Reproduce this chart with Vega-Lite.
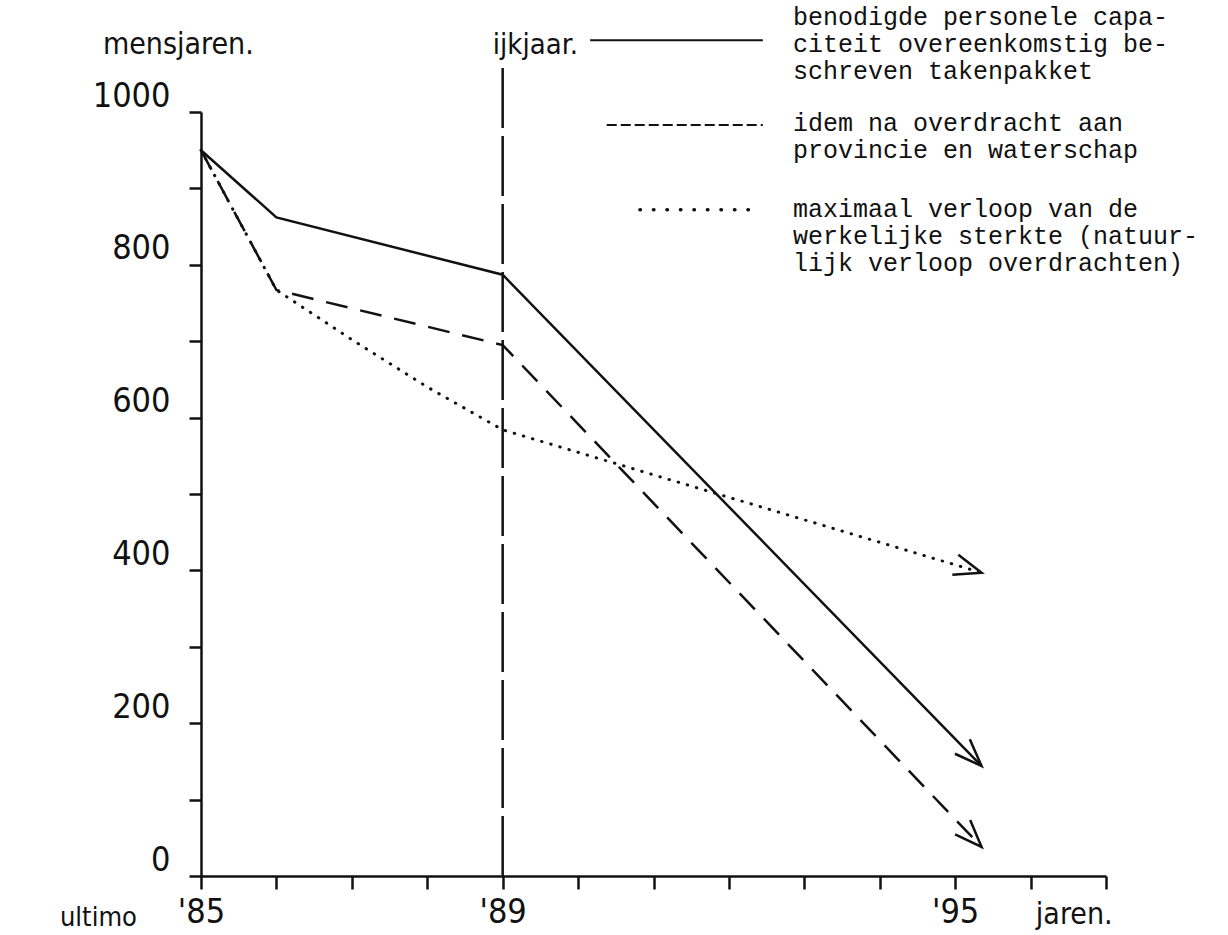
{
  "$schema": "https://vega.github.io/schema/vega-lite/v6.json",
  "width": 905,
  "height": 764,
  "autosize": {"type": "none"},
  "padding": {"left": 201, "top": 112, "right": 122, "bottom": 59},
  "background": "white",
  "config": {
    "view": {"stroke": null},
    "font": "Liberation Sans Narrow, DejaVu Sans Condensed, Liberation Sans",
    "axis": {"grid": false, "domainColor": "#111", "tickColor": "#111", "labelColor": "#111", "domainWidth": 2.5, "tickWidth": 2.5, "labelFont": "Liberation Sans Narrow, DejaVu Sans Condensed, Liberation Sans", "labelFontSize": 34}
  },
  "datasets": {
    "lijnen": [
      {"reeks": "benodigd", "jaar": 85, "mensjaren": 950},
      {"reeks": "benodigd", "jaar": 86, "mensjaren": 862},
      {"reeks": "benodigd", "jaar": 89, "mensjaren": 787},
      {"reeks": "benodigd", "jaar": 95.35, "mensjaren": 144},
      {"reeks": "idem", "jaar": 85, "mensjaren": 950},
      {"reeks": "idem", "jaar": 86, "mensjaren": 767},
      {"reeks": "idem", "jaar": 89, "mensjaren": 695},
      {"reeks": "idem", "jaar": 95.35, "mensjaren": 38},
      {"reeks": "maximaal", "jaar": 85, "mensjaren": 950},
      {"reeks": "maximaal", "jaar": 86, "mensjaren": 767},
      {"reeks": "maximaal", "jaar": 87, "mensjaren": 702},
      {"reeks": "maximaal", "jaar": 88, "mensjaren": 640},
      {"reeks": "maximaal", "jaar": 89, "mensjaren": 584},
      {"reeks": "maximaal", "jaar": 95.35, "mensjaren": 397}
    ]
  },
  "layer": [
    {
      "data": {"name": "lijnen"},
      "transform": [{"filter": "datum.reeks == 'benodigd'"}],
      "mark": {"type": "line", "color": "#111", "strokeWidth": 2.5},
      "encoding": {
        "x": {"field": "jaar", "type": "quantitative", "title": null, "scale": {"domain": [85, 97], "nice": false, "zero": false},
          "axis": {"values": [85, 86, 87, 88, 89, 90, 91, 92, 93, 94, 95, 96, 97], "tickSize": 13, "labelPadding": 6,
            "labelExpr": "datum.value == 85 ? \"'85\" : datum.value == 89 ? \"'89\" : datum.value == 95 ? \"'95\" : ''", "labelFlush": false}},
        "y": {"field": "mensjaren", "type": "quantitative", "title": null, "scale": {"domain": [0, 1000], "nice": false},
          "axis": {"values": [0, 100, 200, 300, 400, 500, 600, 700, 800, 900, 1000], "tickSize": 12, "labelPadding": 19, "labelOffset": -16,
            "labelExpr": "datum.value % 200 == 0 ? '' + datum.value : ''"}}
      }
    },
    {
      "data": {"name": "lijnen"},
      "transform": [{"filter": "datum.reeks == 'idem'"}],
      "mark": {"type": "line", "color": "#111", "strokeWidth": 2.5, "strokeDash": [22, 13]},
      "encoding": {
        "x": {"field": "jaar", "type": "quantitative", "title": null},
        "y": {"field": "mensjaren", "type": "quantitative", "title": null}
      }
    },
    {
      "data": {"name": "lijnen"},
      "transform": [{"filter": "datum.reeks == 'maximaal'"}],
      "mark": {"type": "line", "color": "#111", "strokeWidth": 3, "strokeDash": [0.5, 9], "strokeCap": "round"},
      "encoding": {
        "x": {"field": "jaar", "type": "quantitative", "title": null},
        "y": {"field": "mensjaren", "type": "quantitative", "title": null}
      }
    },
    {
      "data": {"name": "lijnen"},
      "transform": [{"filter": "datum.reeks == 'benodigd' && datum.jaar > 95"}],
      "mark": {"type": "point", "shape": "M-1,-0.38L0,0L-1,0.38", "filled": false, "stroke": "#111", "strokeWidth": 2.5, "size": 3000, "opacity": 1},
      "encoding": {
        "x": {"field": "jaar", "type": "quantitative", "title": null},
        "y": {"field": "mensjaren", "type": "quantitative", "title": null},
        "angle": {"value": 45.5}
      }
    },
    {
      "data": {"name": "lijnen"},
      "transform": [{"filter": "datum.reeks == 'idem' && datum.jaar > 95"}],
      "mark": {"type": "point", "shape": "M-1,-0.38L0,0L-1,0.38", "filled": false, "stroke": "#111", "strokeWidth": 2.5, "size": 3000, "opacity": 1},
      "encoding": {
        "x": {"field": "jaar", "type": "quantitative", "title": null},
        "y": {"field": "mensjaren", "type": "quantitative", "title": null},
        "angle": {"value": 46.3}
      }
    },
    {
      "data": {"name": "lijnen"},
      "transform": [{"filter": "datum.reeks == 'maximaal' && datum.jaar > 95"}],
      "mark": {"type": "point", "shape": "M-1,-0.38L0,0L-1,0.38", "filled": false, "stroke": "#111", "strokeWidth": 2.5, "size": 3000, "opacity": 1},
      "encoding": {
        "x": {"field": "jaar", "type": "quantitative", "title": null},
        "y": {"field": "mensjaren", "type": "quantitative", "title": null},
        "angle": {"value": 16.7}
      }
    },
    {
      "data": {"values": [{}]},
      "mark": {"type": "rule", "color": "#111", "strokeWidth": 2.5, "strokeDash": [60, 8]},
      "encoding": {
        "x": {"datum": 89, "type": "quantitative", "title": null},
        "y": {"datum": 0, "type": "quantitative", "title": null},
        "y2": {"datum": 1068}
      }
    },
    {
      "data": {"values": [{}]},
      "mark": {"type": "rule", "color": "#111", "strokeWidth": 2},
      "encoding": {
        "x": {"datum": 90.16, "type": "quantitative", "title": null},
        "x2": {"datum": 92.45},
        "y": {"datum": 1094, "type": "quantitative", "title": null}
      }
    },
    {
      "data": {"values": [{}]},
      "mark": {"type": "rule", "color": "#111", "strokeWidth": 2, "strokeDash": [10, 4]},
      "encoding": {
        "x": {"datum": 90.38, "type": "quantitative", "title": null},
        "x2": {"datum": 92.45},
        "y": {"datum": 983, "type": "quantitative", "title": null}
      }
    },
    {
      "data": {"values": [{}]},
      "mark": {"type": "rule", "color": "#111", "strokeWidth": 3.5, "strokeDash": [0.5, 13], "strokeCap": "round"},
      "encoding": {
        "x": {"datum": 90.82, "type": "quantitative", "title": null},
        "x2": {"datum": 92.41},
        "y": {"datum": 872, "type": "quantitative", "title": null}
      }
    },
    {
      "data": {"values": [{}]},
      "mark": {"type": "text", "font": "Liberation Mono", "fontSize": 25, "lineHeight": 27, "align": "left", "baseline": "top", "color": "#111"},
      "encoding": {
        "x": {"datum": 92.85, "type": "quantitative", "title": null},
        "y": {"datum": 1140, "type": "quantitative", "title": null},
        "text": {"value": ["benodigde personele capa-", "citeit overeenkomstig be-", "schreven takenpakket"]}
      }
    },
    {
      "data": {"values": [{}]},
      "mark": {"type": "text", "font": "Liberation Mono", "fontSize": 25, "lineHeight": 27, "align": "left", "baseline": "top", "color": "#111"},
      "encoding": {
        "x": {"datum": 92.85, "type": "quantitative", "title": null},
        "y": {"datum": 1001, "type": "quantitative", "title": null},
        "text": {"value": ["idem na overdracht aan", "provincie en waterschap"]}
      }
    },
    {
      "data": {"values": [{}]},
      "mark": {"type": "text", "font": "Liberation Mono", "fontSize": 25, "lineHeight": 27, "align": "left", "baseline": "top", "color": "#111"},
      "encoding": {
        "x": {"datum": 92.85, "type": "quantitative", "title": null},
        "y": {"datum": 889, "type": "quantitative", "title": null},
        "text": {"value": ["maximaal verloop van de", "werkelijke sterkte (natuur-", "lijk verloop overdrachten)"]}
      }
    },
    {
      "data": {"values": [{}]},
      "mark": {"type": "text", "fontSize": 30, "align": "left", "baseline": "middle", "color": "#111"},
      "encoding": {
        "x": {"datum": 83.7, "type": "quantitative", "title": null},
        "y": {"datum": 1088, "type": "quantitative", "title": null},
        "text": {"value": "mensjaren."}
      }
    },
    {
      "data": {"values": [{}]},
      "mark": {"type": "text", "fontSize": 29, "align": "left", "baseline": "middle", "color": "#111"},
      "encoding": {
        "x": {"datum": 88.87, "type": "quantitative", "title": null},
        "y": {"datum": 1088, "type": "quantitative", "title": null},
        "text": {"value": "ijkjaar."}
      }
    },
    {
      "data": {"values": [{}]},
      "mark": {"type": "text", "fontSize": 27, "align": "left", "baseline": "middle", "color": "#111"},
      "encoding": {
        "x": {"datum": 83.13, "type": "quantitative", "title": null},
        "y": {"datum": -55, "type": "quantitative", "title": null},
        "text": {"value": "ultimo"}
      }
    },
    {
      "data": {"values": [{}]},
      "mark": {"type": "text", "fontSize": 30, "align": "left", "baseline": "middle", "color": "#111"},
      "encoding": {
        "x": {"datum": 96.07, "type": "quantitative", "title": null},
        "y": {"datum": -51, "type": "quantitative", "title": null},
        "text": {"value": "jaren."}
      }
    }
  ]
}
